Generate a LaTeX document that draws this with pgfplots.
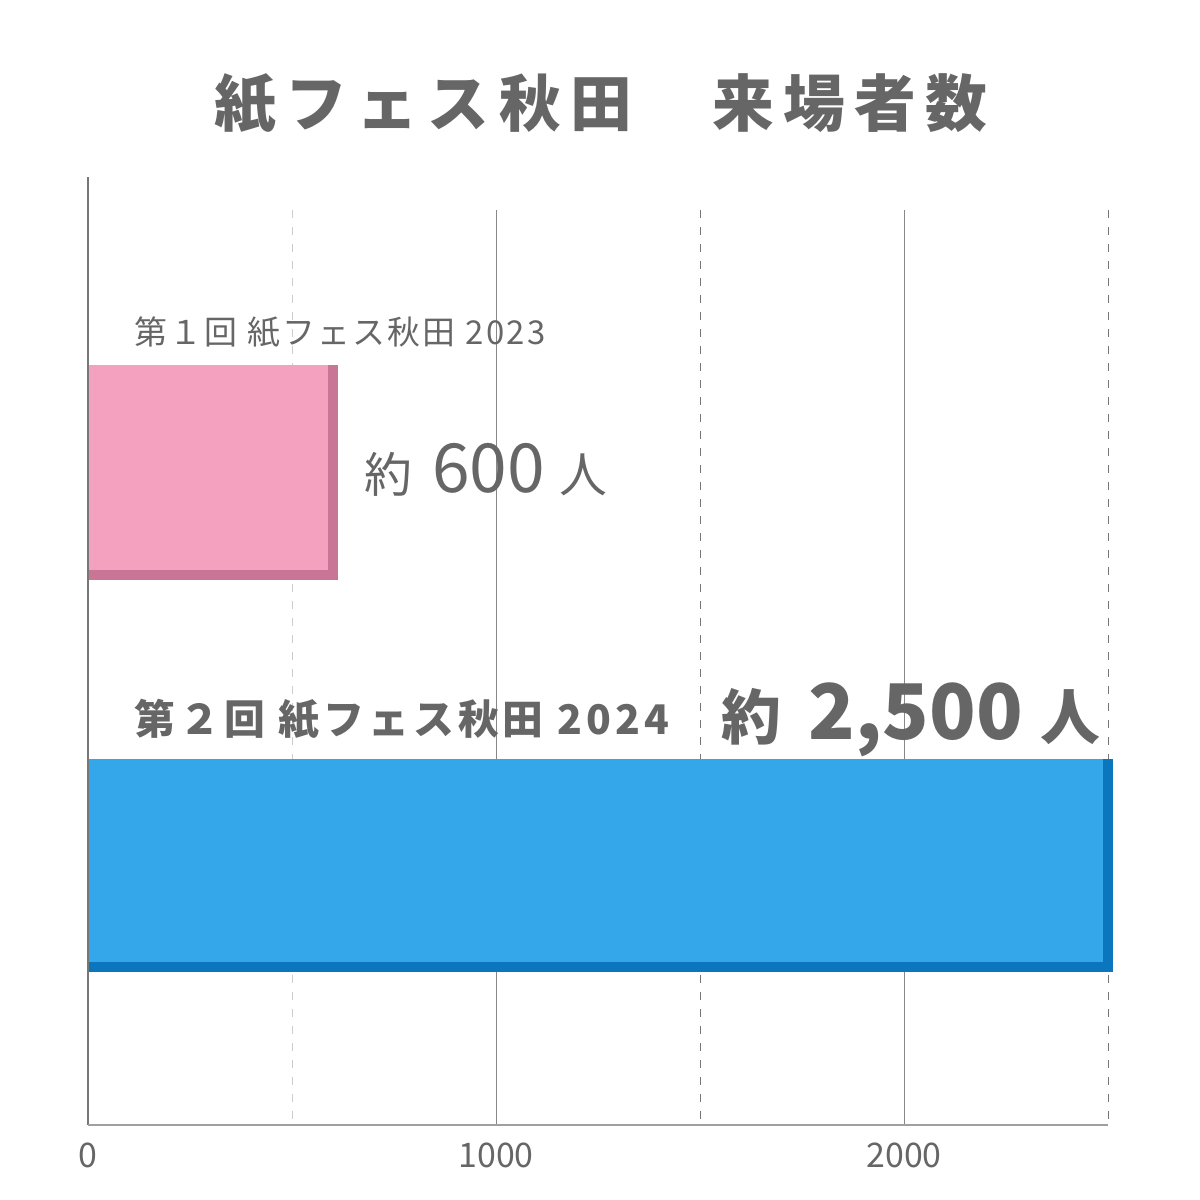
\documentclass[border=0pt]{standalone}
\usepackage{fontspec}
\usepackage{pgfplots}
\pgfplotsset{compat=1.18}
\setmainfont{Noto Sans CJK JP}

\definecolor{txt}{HTML}{666666}
\definecolor{pinkface}{HTML}{F4A0BF}
\definecolor{pinkshade}{HTML}{C87596}
\definecolor{blueface}{HTML}{33A7E9}
\definecolor{blueshade}{HTML}{0B76BE}
\definecolor{gridsolid}{HTML}{888888}
\definecolor{griddark}{HTML}{777777}
\definecolor{gridlight}{HTML}{CCCCCC}

\begin{document}
\begin{tikzpicture}[x=1bp,y=1bp]
\path (0,0) rectangle (1200,1200);
\begin{axis}[
  at={(88bp,75bp)}, anchor=south west,
  scale only axis, width=1028.16bp, height=948bp,
  xmin=0, xmax=2520, ymin=75, ymax=1023,
  axis line style={draw=none},
  xtick={0,1000,2000}, xticklabels={0,1000,2000},
  ytick=\empty, major tick length=0pt,
  xticklabel style={font=\fontsize{34}{40}\selectfont, text=txt, yshift=-14bp},
]
% grid
\draw[gridlight, line width=1bp, dash pattern=on 8bp off 9bp] (500,990) -- (500,75);
\draw[griddark, line width=1bp, dash pattern=on 8bp off 9bp] (1500,990) -- (1500,75);
\draw[griddark, line width=1bp, dash pattern=on 8bp off 9bp] (2500,990) -- (2500,75);
\draw[gridsolid, line width=1bp] (1000,990) -- (1000,75);
\draw[gridsolid, line width=1bp] (2000,990) -- (2000,75);

% 2023: 600
\addplot[xbar, bar shift=-5, bar width=215, fill=pinkshade, draw=none, xshift=5bp] coordinates {(600,732.5)};
\addplot[xbar, bar shift=-5, bar width=215, fill=pinkshade, draw=none, xshift=-5bp] coordinates {(600,732.5)};
\addplot[xbar, bar shift=0, bar width=205, fill=pinkface, draw=none, xshift=-5bp] coordinates {(600,732.5)};
% 2024: 2500
\addplot[xbar, bar shift=-5, bar width=213, fill=blueshade, draw=none, xshift=5bp] coordinates {(2500,339.5)};
\addplot[xbar, bar shift=-5, bar width=213, fill=blueshade, draw=none, xshift=-5bp] coordinates {(2500,339.5)};
\addplot[xbar, bar shift=0, bar width=203, fill=blueface, draw=none, xshift=-5bp] coordinates {(2500,339.5)};
\end{axis}

% axis lines
\draw[griddark, line width=1.2bp] (88,75) -- (88,1023);
\draw[gridsolid!80, line width=2bp] (88,75) -- (1108,75);

% title
\node[text=txt, font=\bfseries\fontsize{62}{70}\selectfont\addfontfeature{LetterSpace=15}]
  at (601,1096) {紙フェス秋田　来場者数};

% labels
\node[anchor=base west, inner sep=0, text=txt,
  font=\fontsize{33}{40}\selectfont\addfontfeature{LetterSpace=7}]
  at (134,855) {第１回 紙フェス秋田 2023};
\node[anchor=base west, inner sep=0, text=txt] at (364,707)
  {{\fontsize{48}{50}\selectfont 約}\hspace{20bp}{\fontsize{68}{70}\selectfont 600}\hspace{15bp}{\fontsize{48}{50}\selectfont 人}};

\node[anchor=base west, inner sep=0, text=txt,
  font=\bfseries\fontsize{41}{45}\selectfont\addfontfeature{LetterSpace=10}]
  at (134,465) {第２回 紙フェス秋田 2024};
\node[anchor=base west, inner sep=0, text=txt] at (721,460)
  {{\bfseries\fontsize{60}{60}\selectfont 約}\hspace{28bp}{\bfseries\fontsize{77}{90}\selectfont 2,500}\hspace{18bp}{\bfseries\fontsize{60}{60}\selectfont 人}};
\end{tikzpicture}
\end{document}
